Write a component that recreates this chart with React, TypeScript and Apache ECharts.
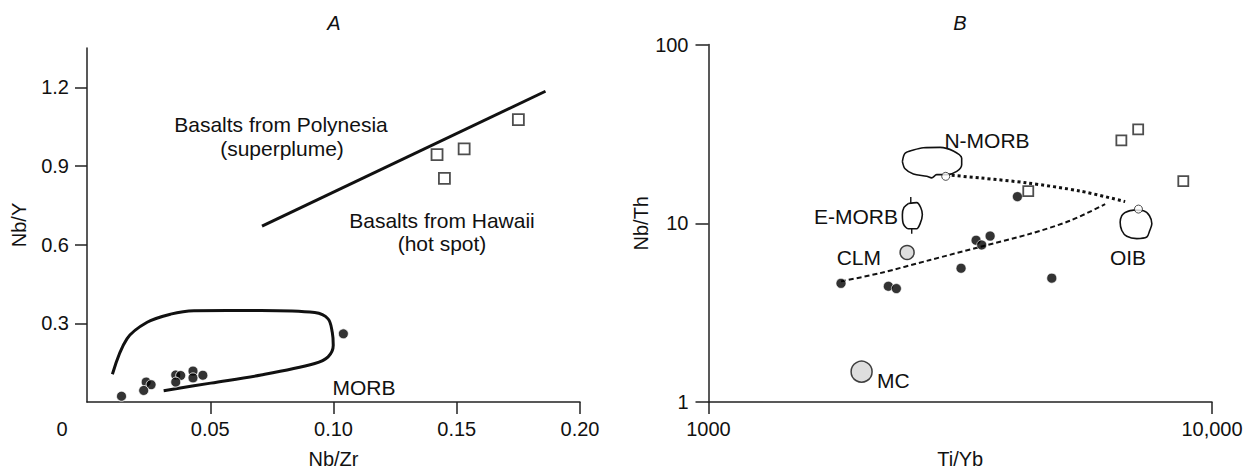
import React, { useEffect, useRef } from "react";
import * as echarts from "echarts";

const FONT = '"Liberation Sans", Arial, Helvetica, sans-serif';

// ---------- Panel A (Nb/Zr vs Nb/Y) ----------
const aXLabels = [0, 0.05, 0.1, 0.15, 0.2];
const aXTicks = [0.05, 0.1, 0.15, 0.2];
const aYTicks = [0.3, 0.6, 0.9, 1.2];
const aCircles = [
  [0.014, 0.022], [0.024, 0.076], [0.026, 0.066], [0.023, 0.044],
  [0.036, 0.103], [0.038, 0.101], [0.036, 0.076], [0.043, 0.118],
  [0.043, 0.092], [0.047, 0.102], [0.104, 0.26],
];
const aSquares = [[0.175, 1.077], [0.153, 0.965], [0.142, 0.943], [0.145, 0.853]];
const aTrend = [[0.071, 0.671], [0.186, 1.185]];
const aMorbEnvelope = [
  [0.0103, 0.106], [0.0162, 0.241], [0.0244, 0.304], [0.0339, 0.335],
  [0.0434, 0.348], [0.0706, 0.349], [0.0924, 0.341], [0.0978, 0.317],
  [0.0995, 0.266], [0.0999, 0.216], [0.0978, 0.172], [0.0924, 0.147],
  [0.0706, 0.103], [0.0502, 0.072], [0.0311, 0.043],
];

// ---------- Panel B (Ti/Yb vs Nb/Th) ----------
const bCircles = [
  [1833, 4.61], [2276, 4.44], [2361, 4.31], [3174, 5.6], [3400, 8.03],
  [3488, 7.56], [3625, 8.48], [4107, 14.09], [4806, 4.93],
];
const bSquares = [[4316, 15.14], [6607, 29.1], [7135, 33.5], [8770, 17.2]];
const bCLM = [[2480, 6.86]];
const bMC = [[2014, 1.478]];
const bOpen = [[2959, 18.3], [7144, 12.0]];
const bNMorb = [
  [2427, 22.14], [2457, 24.62], [2552, 25.68], [2671, 26.45], [2883, 26.56],
  [3064, 25.35], [3183, 23.1], [3183, 21.23], [3112, 19.51], [2973, 18.7],
  [2839, 18.7], [2775, 17.93], [2713, 18.31], [2552, 18.86], [2457, 20.17],
  [2427, 22.14],
];
const bEMorb = [
  [2494, 12.89], [2591, 13.05], [2639, 12.25], [2659, 11.16], [2631, 9.92],
  [2591, 9.31], [2494, 9.31], [2438, 9.92], [2427, 11.16], [2445, 12.25],
  [2494, 12.89],
];
const bEMorbTop = [[2522, 14.03], [2522, 12.95]];
const bEMorbBottom = [[2533, 9.31], [2533, 8.73]];
const bOib = [
  [6722, 11.5], [6985, 11.84], [7310, 11.74], [7513, 11.02], [7595, 9.92],
  [7513, 9.03], [7423, 8.37], [7090, 8.2], [6772, 8.45], [6620, 9.11],
  [6570, 10.13], [6620, 11.02], [6722, 11.5],
];
const bDotted = [[3041, 18.54], [3462, 17.93], [4286, 16.82], [5472, 15.14], [6722, 13.22]];
const bDashed = [
  [1833, 4.73], [2191, 5.26], [2754, 6.23], [3462, 7.37], [4352, 8.73],
  [5227, 10.34], [6135, 12.78],
];

const INK = "#111";
const axisLine = { lineStyle: { color: "#222", width: 1.5 } };
const labelStyle = { color: "#111", fontSize: 20, fontFamily: FONT };
const nameStyle = { color: "#111", fontSize: 20, fontFamily: FONT };

function txt(x: number, y: number, text: string, align = "center", italic = false, size = 21) {
  return {
    type: "text",
    x,
    y,
    silent: true,
    style: {
      text,
      fill: INK,
      font: `${italic ? "italic " : ""}${size}px ${FONT}`,
      textAlign: align,
      textVerticalAlign: "middle",
    },
  };
}

export default function App() {
  const ref = useRef<HTMLDivElement>(null);
  useEffect(() => {
    if (!ref.current) return;
    const chart = echarts.init(ref.current, null, { renderer: "svg" });
    const line = (xi: number, data: number[][], width: number, type: any = "solid", smooth: any = 0.35) => ({
      type: "line",
      xAxisIndex: xi,
      yAxisIndex: xi,
      data,
      smooth,
      symbol: "none",
      silent: true,
      lineStyle: { color: INK, width, type },
      z: 2,
    });
    chart.setOption({
      animation: false,
      backgroundColor: "#fff",
      grid: [
        { left: 87, top: 48, width: 493, height: 359.5 },
        { left: 708.5, top: 44.5, width: 503.5, height: 363 },
      ],
      xAxis: [
        {
          gridIndex: 0, type: "value", min: 0, max: 0.2, interval: 0.05,
          name: "Nb/Zr", nameLocation: "middle", nameGap: 47, nameTextStyle: nameStyle,
          axisLine: { ...axisLine, onZero: false },
          axisTick: { length: 12, customValues: aXTicks, lineStyle: { color: "#222", width: 1.5 } },
          axisLabel: {
            ...labelStyle, margin: 17, customValues: aXLabels,
            formatter: (v: number) => (v === 0 ? "{z|0}" : v.toFixed(2)),
            rich: { z: { ...labelStyle, padding: [0, 50, 0, 0] } },
          },
          splitLine: { show: false },
        },
        {
          gridIndex: 1, type: "log", logBase: 10, min: 1000, max: 10000,
          name: "Ti/Yb", nameLocation: "middle", nameGap: 47, nameTextStyle: nameStyle,
          axisLine: { ...axisLine, onZero: false },
          axisTick: { length: 12, lineStyle: { color: "#222", width: 1.5 } },
          axisLabel: { ...labelStyle, margin: 17, formatter: (v: number) => (v >= 10000 ? "10,000" : String(v)) },
          splitLine: { show: false }, minorTick: { show: false },
        },
      ],
      yAxis: [
        {
          gridIndex: 0, type: "value", min: 0, max: 1.35, interval: 0.3,
          name: "Nb/Y", nameLocation: "middle", nameGap: 58, nameTextStyle: nameStyle,
          axisLine: { ...axisLine, onZero: false },
          axisTick: { length: 12, customValues: aYTicks, lineStyle: { color: "#222", width: 1.5 } },
          axisLabel: { ...labelStyle, margin: 18, customValues: aYTicks, formatter: (v: number) => v.toFixed(1) },
          splitLine: { show: false },
        },
        {
          gridIndex: 1, type: "log", logBase: 10, min: 1, max: 100,
          name: "Nb/Th", nameLocation: "middle", nameGap: 46, nameTextStyle: nameStyle,
          axisLine: { ...axisLine, onZero: false },
          axisTick: { length: 13, lineStyle: { color: "#222", width: 1.5 } },
          axisLabel: { ...labelStyle, margin: 20 },
          splitLine: { show: false }, minorTick: { show: false },
        },
      ],
      series: [
        line(0, aMorbEnvelope, 3),
        line(0, aTrend, 3, "solid", false),
        {
          type: "scatter", xAxisIndex: 0, yAxisIndex: 0, data: aCircles, symbol: "circle", symbolSize: 10,
          itemStyle: { color: "#000", borderColor: "#fff", borderWidth: 1 }, z: 5,
        },
        {
          type: "scatter", xAxisIndex: 0, yAxisIndex: 0, data: aSquares, symbol: "rect", symbolSize: 11,
          itemStyle: { color: "#fff", borderColor: "#222", borderWidth: 1.8 }, z: 5,
        },
        line(1, bNMorb, 1.6, "solid", 0.3),
        line(1, bEMorb, 1.6, "solid", 0.3),
        line(1, bEMorbTop, 1.4, "solid", false),
        line(1, bEMorbBottom, 1.4, "solid", false),
        line(1, bOib, 1.6, "solid", 0.3),
        line(1, bDotted, 3, [3, 3], 0.3),
        line(1, bDashed, 2, [5, 3], 0.3),
        {
          type: "scatter", xAxisIndex: 1, yAxisIndex: 1, data: bOpen, symbol: "circle", symbolSize: 8,
          itemStyle: { color: "#fff", borderColor: "#222", borderWidth: 1 }, z: 4,
        },
        {
          type: "scatter", xAxisIndex: 1, yAxisIndex: 1, data: bCircles, symbol: "circle", symbolSize: 10,
          itemStyle: { color: "#000", borderColor: "#fff", borderWidth: 0.8 }, z: 5,
        },
        {
          type: "scatter", xAxisIndex: 1, yAxisIndex: 1, data: bSquares, symbol: "rect", symbolSize: 10,
          itemStyle: { color: "#fff", borderColor: "#222", borderWidth: 1.8 }, z: 5,
        },
        {
          type: "scatter", xAxisIndex: 1, yAxisIndex: 1, data: bCLM, symbol: "circle", symbolSize: 14,
          itemStyle: { color: "#d6d6d6", borderColor: "#111", borderWidth: 1.5 }, z: 5,
        },
        {
          type: "scatter", xAxisIndex: 1, yAxisIndex: 1, data: bMC, symbol: "circle", symbolSize: 21,
          itemStyle: { color: "#d6d6d6", borderColor: "#111", borderWidth: 1.5 }, z: 5,
        },
      ],
      graphic: [
        txt(334, 23, "A", "center", true, 20),
        txt(960, 23, "B", "center", true, 20),
        txt(281, 124, "Basalts from Polynesia"),
        txt(282, 148, "(superplume)"),
        txt(442, 220, "Basalts from Hawaii"),
        txt(442, 243, "(hot spot)"),
        txt(364, 387, "MORB"),
        txt(987, 140, "N-MORB"),
        txt(898, 216, "E-MORB", "right"),
        txt(881, 257, "CLM", "right"),
        txt(1128, 257, "OIB"),
        txt(877, 380, "MC", "left"),
      ],
    });
    return () => chart.dispose();
  }, []);
  return (
    <div
      ref={ref}
      style={{ position: "absolute", left: 0, top: 0, width: 1250, height: 474, background: "#fff" }}
    />
  );
}
